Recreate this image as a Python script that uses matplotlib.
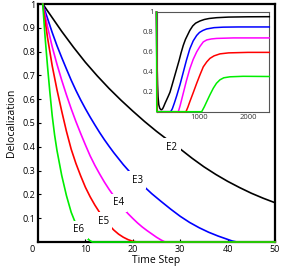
import matplotlib
matplotlib.use("Agg")
import matplotlib.pyplot as plt

plt.rcParams["font.family"] = ["Open Sans", "DejaVu Sans"]

# ---- main panel data ----
t_e2 = [1, 2.5, 5, 7.5, 10, 12.5, 15, 17.5, 20, 22.5, 25, 27.5, 30, 32.5, 35,
        37.5, 40, 42.5, 45, 47.5, 50]
v_e2 = [1.0, 0.957, 0.885, 0.818, 0.755, 0.698, 0.645, 0.596, 0.55, 0.506, 0.465,
        0.427, 0.391, 0.352, 0.316, 0.284, 0.255, 0.229, 0.205, 0.184, 0.165]

t_e3 = [1, 2, 3, 4, 5, 6, 7, 8, 9, 10, 11, 12, 13, 14, 15, 16, 18, 20, 22, 24,
        26, 28, 30, 32, 34, 36, 38, 40, 41, 42, 50]
v_e3 = [1.0, 0.94, 0.88, 0.825, 0.775, 0.727, 0.68, 0.637, 0.597, 0.56, 0.525,
        0.492, 0.46, 0.43, 0.402, 0.375, 0.325, 0.28, 0.24, 0.203, 0.17, 0.138,
        0.108, 0.082, 0.06, 0.041, 0.025, 0.011, 0.004, 0.0, 0.0]

t_e4 = [1, 2, 3, 4, 5, 6, 7, 8, 9, 10, 11, 12, 13, 14, 15, 16, 17, 18, 19, 20,
        21, 22, 23, 24, 25, 26, 26.8, 50]
v_e4 = [1.0, 0.905, 0.82, 0.747, 0.68, 0.618, 0.56, 0.506, 0.456, 0.408, 0.362,
        0.322, 0.286, 0.252, 0.221, 0.193, 0.166, 0.141, 0.119, 0.099, 0.08,
        0.063, 0.048, 0.034, 0.02, 0.008, 0.0, 0.0]

t_e5 = [1, 2, 3, 4, 5, 6, 7, 8, 9, 10, 11, 12, 13, 14, 15, 16, 17, 18, 19, 20, 21, 50]
v_e5 = [1.0, 0.86, 0.74, 0.64, 0.55, 0.465, 0.39, 0.33, 0.278, 0.23, 0.19, 0.155,
        0.124, 0.095, 0.071, 0.05, 0.033, 0.02, 0.01, 0.003, 0.0, 0.0]

t_e6 = [1, 1.5, 2, 2.5, 3, 3.5, 4, 5, 6, 7, 8, 9, 10, 11, 11.5, 50]
v_e6 = [1.0, 0.86, 0.74, 0.63, 0.53, 0.45, 0.385, 0.28, 0.195, 0.125, 0.075, 0.045,
        0.022, 0.005, 0.0, 0.0]

labels = ["E2", "E3", "E4", "E5", "E6"]
label_t = [28.2, 20.9, 16.9, 13.8, 8.6]
label_v = [0.398, 0.26, 0.165, 0.088, 0.052]
colors = ["black", "#0000ff", "#ff00ff", "#ff0000", "#00ee00"]

# ---- inset data ----
x_in_e2 = [113, 118, 123, 128, 135, 145, 160, 180, 200, 220, 240, 260, 290, 323,
           360, 391, 430, 480, 530, 580, 620, 665, 710, 760, 800, 860, 920, 1010,
           1100, 1200, 1354, 1600, 2000, 2440]
y_in_e2 = [1.0, 0.8, 0.6, 0.42, 0.27, 0.15, 0.07, 0.035, 0.022, 0.02, 0.03, 0.05,
           0.085, 0.12, 0.16, 0.195, 0.26, 0.345, 0.43, 0.515, 0.59, 0.665, 0.725,
           0.775, 0.815, 0.86, 0.888, 0.91, 0.925, 0.935, 0.943, 0.949, 0.952, 0.953]
x_in_e3 = [113, 125, 406, 440, 480, 530, 600, 665, 730, 800, 870, 942, 1000, 1070,
           1148, 1300, 1490, 1800, 2440]
y_in_e3 = [1.0, 0.0, 0.0, 0.03, 0.085, 0.16, 0.275, 0.395, 0.515, 0.63, 0.71, 0.765,
           0.795, 0.815, 0.83, 0.843, 0.848, 0.85, 0.85]
x_in_e4 = [113, 125, 563, 600, 665, 730, 800, 870, 942, 1010, 1078, 1150, 1250,
           1354, 1700, 2440]
y_in_e4 = [1.0, 0.0, 0.0, 0.06, 0.185, 0.31, 0.43, 0.525, 0.60, 0.655, 0.70, 0.72,
           0.73, 0.735, 0.74, 0.74]
x_in_e5 = [113, 125, 721, 760, 800, 870, 942, 1010, 1078, 1150, 1216, 1300, 1422,
           1600, 2000, 2440]
y_in_e5 = [1.0, 0.0, 0.0, 0.045, 0.10, 0.19, 0.285, 0.37, 0.45, 0.50, 0.535, 0.56,
           0.58, 0.59, 0.595, 0.595]
x_in_e6 = [113, 118, 1045, 1100, 1148, 1216, 1284, 1350, 1422, 1500, 1628, 1900, 2440]
y_in_e6 = [1.0, 0.0, 0.0, 0.05, 0.10, 0.17, 0.235, 0.285, 0.32, 0.34, 0.35, 0.355, 0.353]

fig = plt.figure(figsize=(2.81, 2.74), dpi=100)
ax = fig.add_axes([38 / 281, 32 / 274, 237 / 281, 238 / 274])

main = [(t_e2, v_e2), (t_e3, v_e3), (t_e4, v_e4), (t_e5, v_e5), (t_e6, v_e6)]
for (t, v), c in zip(main, colors):
    ax.plot(t, v, color=c, lw=1.2, clip_on=False, zorder=3)

for s, t, v in zip(labels, label_t, label_v):
    ax.text(t, v, s, fontsize=7, ha="center", va="center", zorder=4,
            bbox=dict(boxstyle="square,pad=0.35", fc="white", ec="none"))

ax.set_xlim(0, 50)
ax.set_ylim(0, 1)
ax.set_xticks([10, 20, 30, 40, 50])
ax.set_yticks([0.1, 0.2, 0.3, 0.4, 0.5, 0.6, 0.7, 0.8, 0.9, 1.0])
ax.set_yticklabels(["0.1", "0.2", "0.3", "0.4", "0.5", "0.6", "0.7", "0.8", "0.9", "1"])
ax.tick_params(direction="in", length=2.5, width=0.8, labelsize=6.5, pad=2)
ax.text(-0.025, -0.03, "0", transform=ax.transAxes, fontsize=6.5, ha="center", va="center")
for sp in ax.spines.values():
    sp.set_linewidth(1.6)
ax.set_xlabel("Time Step", fontsize=7.5, labelpad=1)
ax.set_ylabel("Delocalization", fontsize=7.5, labelpad=4)

# ---- inset ----
ins = fig.add_axes([156.5 / 281, 162.3 / 274, 112.8 / 281, 99.7 / 274])
inset = [(x_in_e2, y_in_e2), (x_in_e3, y_in_e3), (x_in_e4, y_in_e4),
         (x_in_e5, y_in_e5), (x_in_e6, y_in_e6)]
for (x, y), c in zip(inset, colors):
    ins.plot(x, y, color=c, lw=1.1, clip_on=False, zorder=3)
ins.set_xlim(113, 2440)
ins.set_ylim(0, 1)
ins.set_xticks([1000, 2000])
ins.set_yticks([0.2, 0.4, 0.6, 0.8, 1.0])
ins.set_yticklabels(["0.2", "0.4", "0.6", "0.8", "1"])
ins.tick_params(length=0, labelsize=5.5, pad=2, colors="#333333")
for sp in ins.spines.values():
    sp.set_linewidth(0.8)
    sp.set_color("#555555")

fig.savefig("out.png", dpi=100)
